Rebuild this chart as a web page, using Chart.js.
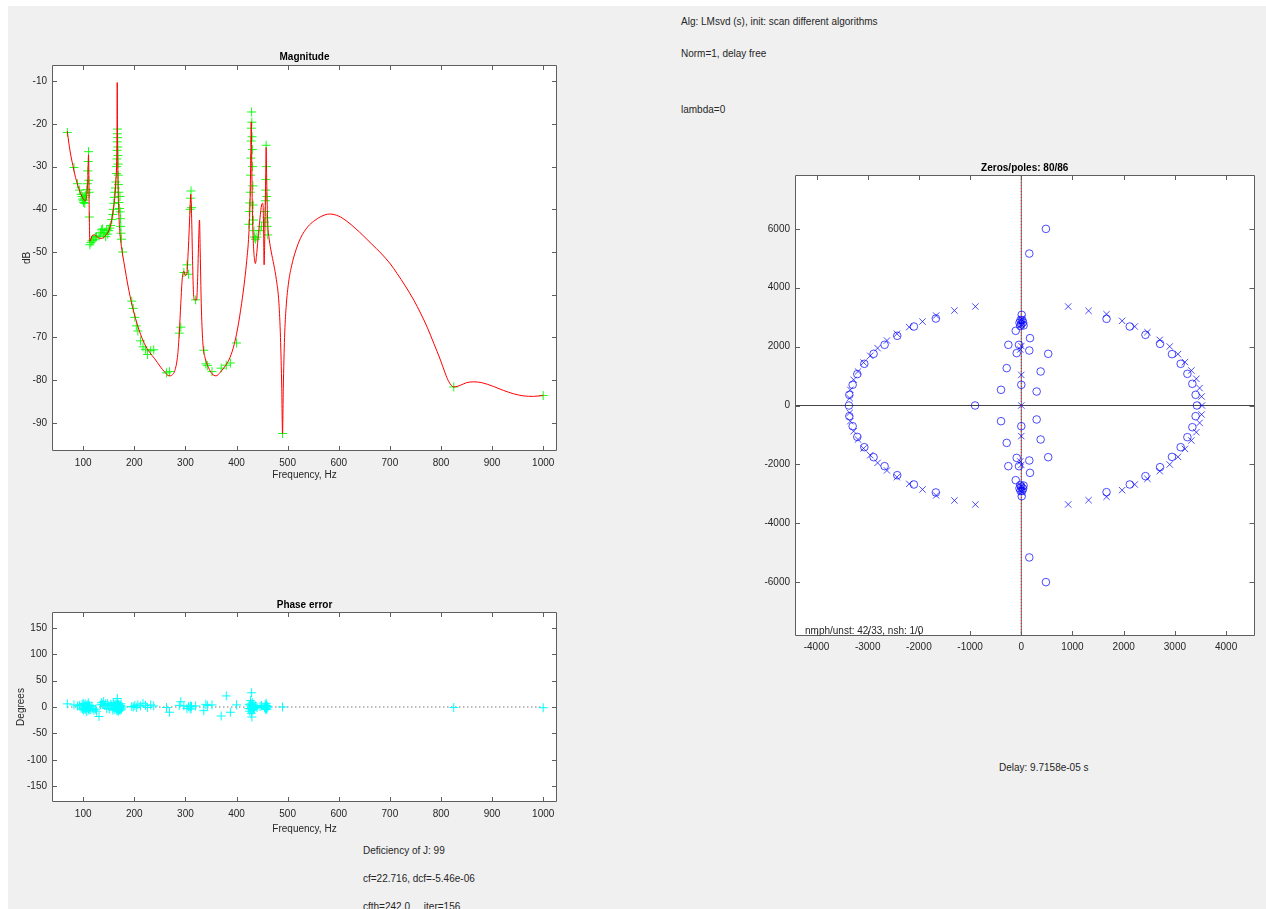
<html>

<head>
  <title>Fit result</title>
  <script src="https://cdn.jsdelivr.net/npm/chart.js"></script>
  <style>
    body {
      margin: 0;
      width: 1266px;
      height: 909px;
      overflow: hidden;
      background: #fff;
      font-family: "Liberation Sans", Arial, sans-serif;
    }

    #fig {
      position: absolute;
      left: 8px;
      top: 6px;
      width: 1258px;
      height: 903px;
      background: #f0f0f0;
    }

    canvas {
      position: absolute;
    }

    .txt {
      position: absolute;
      font-size: 10px;
      line-height: 12px;
      color: #262626;
      white-space: pre;
    }
  </style>
</head>

<body>
  <div id="fig"></div>
  <canvas id="magChart" width="570" height="445" style="left:8px;top:45px"></canvas>
  <canvas id="phaseChart" width="570" height="245" style="left:8px;top:592px"></canvas>
  <canvas id="zpChart" width="500" height="510" style="left:760px;top:150px"></canvas>

  <div class="txt" style="left:681px;top:16px">Alg: LMsvd (s), init: scan different algorithms</div>
  <div class="txt" style="left:681px;top:48px">Norm=1, delay free</div>
  <div class="txt" style="left:681px;top:104px">lambda=0</div>
  <div class="txt" style="left:805px;top:625px">nmph/unst: 42/33, nsh: 1/0</div>
  <div class="txt" style="left:999px;top:762px">Delay: 9.7158e-05 s</div>
  <div class="txt" style="left:363px;top:845px">Deficiency of J: 99</div>
  <div class="txt" style="left:363px;top:873px">cf=22.716, dcf=-5.46e-06</div>
  <div class="txt" style="left:363px;top:901px">cfth=242.0     iter=156</div>

  <script>
    // model curve (red line)
    const curveFreq = [69, 72, 76, 80, 85, 90, 95, 100, 104, 106, 108, 109, 110, 110.5, 111.2, 112, 113, 115, 118, 122,
      126, 130, 135, 140, 145, 150, 155, 159, 162, 164, 165.5, 166.2, 166.6, 167.1, 168, 169.5, 171.5, 174, 177, 182,
      187, 192, 200, 210, 220, 230, 240, 250, 260, 268, 274, 280, 285, 288, 291, 294, 297, 300, 303, 305,
      307, 309, 310.6, 312, 314, 316, 318, 322, 324, 326, 327.6, 329, 331, 334, 338, 345, 352, 360, 368, 376,
      385, 394, 402, 410, 416, 420, 424, 426.5, 428, 428.8, 429.6, 431, 433, 435, 437, 439, 442, 446, 449, 451,
      452.5, 454, 455.5, 457, 458, 459, 461, 464, 468, 473, 478, 483, 486, 488.5, 490, 491.5, 494, 497, 502, 508,
      515, 525, 540, 551, 565, 582, 600, 616, 632, 649, 665, 682, 701, 714, 730, 747, 760, 773, 786, 799,
      808, 815, 825, 838, 850, 864, 880, 903, 922, 942, 962, 981, 1000];
    const curveDb = [-21.7, -24.5, -27.5, -29.8, -32.5, -34.6, -36.3, -37.5, -38, -37.5, -35.5, -33, -29, -27.2, -33, -42, -47.5, -47, -46.1, -46,
      -46.3, -46.7, -46.8, -46.6, -46, -45, -43, -40, -37, -33, -29, -22, -10.3, -22, -33, -40, -45, -48, -50.5, -54,
      -57.5, -60.5, -64.5, -68.5, -71.5, -73.5, -75, -76.7, -78.2, -79, -78.8, -77.5, -74, -69, -62, -56, -54.5, -55.5, -55, -51,
      -46, -40, -36.5, -41, -52, -60, -61.2, -61.2, -56, -47, -42.5, -50, -62, -71, -74.5, -77, -78.5, -79, -78.2, -77,
      -75.3, -72.3, -68, -62, -56.5, -52, -46, -38, -27, -19.5, -27, -40, -48, -51.5, -52.7, -51, -47, -42, -39, -38.6,
      -41, -53, -45, -33, -25.5, -33, -43, -47, -50, -53, -56.5, -62, -70, -82, -92.5, -82, -70, -63, -57, -53.1,
      -50, -46.8, -44, -42.8, -41.7, -41.1, -41.6, -42.8, -44.4, -46.3, -48.2, -50.2, -52.8, -55, -57.9, -61.3, -64.3, -67.6, -71.4, -75.3,
      -78.3, -80.3, -81.6, -81.2, -80.6, -80.4, -80.6, -81.5, -82.4, -83.2, -83.7, -83.8, -83.6];

    // measured points (green +) and their phase error (cyan +)
    const measFreq = [69, 82, 89, 93, 96, 98, 99, 100, 101, 102, 103, 104, 105, 106, 107, 108, 109, 110, 110.5, 111,
      111.5, 112, 113, 115, 117, 119, 121, 124, 126, 131, 134, 136, 138, 140, 142, 144, 146, 148, 150, 152,
      154, 156, 158, 159, 160, 161, 162, 163, 164, 165, 165.5, 166, 166.3, 166.6, 166.9, 167.2, 167.5, 167.8, 168.1, 168.4,
      168.7, 169, 169.5, 170, 171, 172, 172.5, 173, 173.5, 174, 175, 177, 195, 198, 201, 204, 207, 212, 217, 222,
      226, 232, 238, 263, 269, 288, 291, 297, 303, 306, 309, 310, 311, 312, 320, 336, 340, 343, 352, 370,
      380, 388, 400, 424, 425, 426, 427, 427.5, 428, 428.5, 429, 429.5, 430, 430.5, 431, 431.5, 432, 432.5, 433, 434,
      435, 437, 440, 446, 449, 455, 456, 456.5, 457, 457.5, 458, 458.5, 459, 459.5, 460, 461, 490, 825, 1000];
    const measDb = [-22, -30.2, -34, -35.5, -36.5, -37, -37.6, -38, -38.4, -37.8, -38.6, -37.3, -36.8, -36.2, -35.4, -34, -31, -28.8, -26.5, -33.2,
      -36, -41.8, -48.3, -47.8, -47.4, -47.2, -47, -46.5, -46.4, -46.2, -45.5, -44.8, -44.6, -45.8, -45.4, -46.4, -44.8, -45.8, -45, -44.4,
      -43.8, -42.4, -41.2, -40, -38.6, -37.2, -36, -35, -33.6, -31.6, -30, -28.2, -26.2, -24.2, -22.3, -21.2, -23.2, -25.4, -27.4, -29.4,
      -32, -34.2, -36, -38.4, -39.8, -37, -40.6, -42.2, -44, -45.6, -47, -50, -61.5, -63.2, -65.3, -67.3, -68.5, -70.8, -72.2, -72.8,
      -74, -73.1, -72.9, -78.3, -78, -69, -67.6, -54.8, -53, -55.2, -40, -37.4, -35.7, -39.6, -61.2, -73, -76.2, -76.6, -78, -77.2,
      -76.5, -76, -71.3, -43.5, -40.5, -38.5, -36, -32, -28, -24, -21, -17.2, -19.6, -23, -26, -30, -34.5, -39, -42.5, -45,
      -46.5, -47, -46.5, -45, -44, -43, -40.5, -38, -35.5, -33, -25, -30, -37, -42, -44, -46, -92.5, -81.6, -83.6];
    const phaseErr = [6, 4, 2, 3, -2, 5, -4, 7, -6, 3, -3, 6, -5, 2, -8, 4, -2, 8, -4, 1,
      -6, 3, -2, -5, 2, -3, -6, -4, -8, -18, 4, 8, 5, 10, 3, 6, -3, 7, 2, -4,
      5, 3, -6, 8, -2, 4, -5, 2, 6, -3, 3, -7, 5, -2, 16, 8, -4, 3, -6, 2,
      -8, 5, -3, 4, -5, 2, -6, 3, -2, 6, -4, 0, 1, 0, 3, -1, 4, 2, 7, 3,
      -1, 4, 2, -1, -10, 3, 10, 2, -3, 1, -2, 2, -4, 1, 2, -7, 5, 3, 4, -17,
      21, -10, 4, -3, 5, -8, 2, 12, -4, 6, -12, 27, -19, 3, -6, 8, -2, 4, -5, 1,
      -3, 2, -1, 1, 3, -1, 4, -3, 2, -5, 7, -2, 3, -4, 1, 0, 0, -1, -1.4];
    const zeroLineFreq = [69, 1000];
    const zeroLineVal = [0, 0];

    // zeros (o) and poles (x)
    const zeroRe = [-3367, -3359, -3359, -3294, -3294, -3203, -3203, -3066, -3066, -2885, -2885, -2670, -2670, -2423, -2423, -2097, -2097, -1669, -1669,
      3431, 3405, 3405, 3341, 3341, 3244, 3244, 3113, 3113, 2943, 2943, 2710, 2710, 2425, 2425, 2119, 2119, 1665, 1665,
      -903, -396, -396, 300, 300, 0, 0, -285, -285, 378, 378, -90, -90, 156, 156, 526, 526, -253, -253, -45, -45,
      170, 170, -109, -109, -20, -20, 45, 45, 0, 0, -35, -35, 35, 35, -15, -15, 20, 20, 8, 8, 156, 156, 481, 481];
    const zeroIm = [0, 363, -363, 703, -703, 1066, -1066, 1416, -1416, 1756, -1756, 2061, -2061, 2367, -2367, 2683, -2683, 2954, -2954,
      0, 363, -363, 737, -737, 1076, -1076, 1416, -1416, 1745, -1745, 2095, -2095, 2400, -2400, 2683, -2683, 2944, -2944,
      0, 533, -533, 475, -475, 703, -703, 1270, -1270, 1155, -1155, 1779, -1779, 1868, -1868, 1756, -1756, 2061, -2061, 2061, -2061,
      2288, -2288, 2537, -2537, 2700, -2700, 2720, -2720, 2760, -2760, 2810, -2810, 2820, -2820, 2900, -2900, 2900, -2900, 3080, -3080, 5161, -5161, 6000, -6000];
    const poleRe = [-3352, -3352, -3340, -3340, -3275, -3275, -3189, -3189, -3080, -3080, -2950, -2950, -2807, -2807, -2624, -2624, -2429, -2429,
      -2189, -2189, -1930, -1930, -1663, -1663, -1306, -1306, -897, -897,
      3529, 3522, 3522, 3483, 3483, 3419, 3419, 3322, 3322, 3197, 3197, 3060, 3060, 2899, 2899, 2704, 2704, 2464, 2464,
      2216, 2216, 1969, 1969, 1665, 1665, 1314, 1314, 916, 916,
      0, 0, 0, -20, -20, 0, 0, 0, 0, 0, 0, 10, 10];
    const poleIm = [251, -251, 533, -533, 873, -873, 1155, -1155, 1460, -1460, 1688, -1688, 1949, -1949, 2207, -2207, 2435, -2435,
      2662, -2662, 2852, -2852, 3056, -3056, 3226, -3226, 3362, -3362,
      0, 306, -306, 591, -591, 907, -907, 1189, -1189, 1474, -1474, 1745, -1745, 2004, -2004, 2231, -2231, 2492, -2492,
      2683, -2683, 2876, -2876, 3103, -3103, 3216, -3216, 3362, -3362,
      0, 1040, -1040, 1900, -1900, 2020, -2020, 2750, -2750, 2850, -2850, 2950, -2950];

    // axis limits and tick labels
    const magXRange = [39, 1027];
    const magYRange = [-96.6, -6.2];
    const phaseYRange = [-180, 180];
    const zpXRange = [-4420, 4555];
    const zpYRange = [-7830, 7830];
    const freqTicks = [100, 200, 300, 400, 500, 600, 700, 800, 900, 1000];
    const magYTicks = [-90, -80, -70, -60, -50, -40, -30, -20, -10];
    const phaseYTicks = [-150, -100, -50, 0, 50, 100, 150];
    const zpXTicks = [-4000, -3000, -2000, -1000, 0, 1000, 2000, 3000, 4000];
    const zpYTicks = [-6000, -4000, -2000, 0, 2000, 4000, 6000];

    const FONT = "'Liberation Sans', Arial, sans-serif";
    const TXT = '#262626';

    function pts(xs, ys) {
      return xs.map((x, i) => ({ x: x, y: ys[i] }));
    }

    // white axes background, box with inward ticks on all sides, bold title
    const matlabBox = {
      id: 'matlabBox',
      beforeDraw(chart) {
        const a = chart.chartArea, ctx = chart.ctx;
        ctx.save();
        ctx.fillStyle = '#fff';
        ctx.fillRect(a.left, a.top, a.right - a.left, a.bottom - a.top);
        ctx.restore();
      },
      afterDraw(chart, args, opts) {
        const a = chart.chartArea, ctx = chart.ctx;
        const len = opts.tickLen;
        const xs = chart.scales.x, ys = chart.scales.y;
        ctx.save();
        ctx.strokeStyle = '#5e5e5e';
        ctx.lineWidth = 1;
        ctx.beginPath();
        ctx.rect(Math.round(a.left) + 0.5, Math.round(a.top) + 0.5, Math.round(a.right - a.left) - 1, Math.round(a.bottom - a.top) - 1);
        xs.ticks.forEach(t => {
          const p = Math.round(xs.getPixelForValue(t.value)) + 0.5;
          ctx.moveTo(p, a.bottom); ctx.lineTo(p, a.bottom - len);
          ctx.moveTo(p, a.top); ctx.lineTo(p, a.top + len);
        });
        ys.ticks.forEach(t => {
          const p = Math.round(ys.getPixelForValue(t.value)) + 0.5;
          ctx.moveTo(a.left, p); ctx.lineTo(a.left + len, p);
          ctx.moveTo(a.right, p); ctx.lineTo(a.right - len, p);
        });
        ctx.stroke();
        ctx.fillStyle = '#000';
        ctx.font = 'bold 10px ' + FONT;
        ctx.textAlign = 'center';
        ctx.textBaseline = 'middle';
        ctx.fillText(opts.title, (a.left + a.right) / 2, a.top - opts.gap);
        ctx.restore();
      }
    };

    function genScale(range, ticks, size, pad, title, titlePad) {
      return {
        type: 'linear',
        min: range[0],
        max: range[1],
        afterBuildTicks: axis => { axis.ticks = ticks.map(v => ({ value: v })); },
        afterFit: axis => {
          if (axis.isHorizontal()) axis.height = size;
          else axis.width = size;
        },
        grid: { display: false, drawTicks: false },
        border: { display: false },
        ticks: {
          padding: pad, color: TXT, autoSkip: false, maxRotation: 0,
          font: { family: FONT, size: 10 },
          callback: v => String(v)
        },
        title: {
          display: !!title, text: title || '', color: TXT,
          font: { family: FONT, size: 10 },
          padding: titlePad || 0
        }
      };
    }

    function genChartConfig(datasets, scales, padding, box) {
      return {
        type: 'scatter',
        data: { datasets: datasets },
        options: {
          responsive: false,
          animation: false,
          events: [],
          layout: { padding: padding },
          scales: scales,
          plugins: { legend: { display: false }, tooltip: { enabled: false }, matlabBox: box }
        },
        plugins: [matlabBox]
      };
    }

    // Magnitude
    new Chart('magChart', genChartConfig([
      {
        data: pts(curveFreq, curveDb), showLine: true, borderColor: '#ff0000', borderWidth: 1,
        pointRadius: 0, cubicInterpolationMode: 'monotone'
      },
      {
        data: pts(measFreq, measDb), showLine: false, pointStyle: 'cross', pointRadius: 4.5,
        pointBorderColor: 'rgba(0,255,0,0.9)', pointBorderWidth: 1
      }
    ], {
      x: genScale(magXRange, freqTicks, 39, 6, 'Frequency, Hz', { top: 0, bottom: 9 }),
      y: genScale(magYRange, magYTicks, 44, 5, 'dB', { top: 13, bottom: 0 })
    }, { top: 20, right: 21, left: 0, bottom: 0 }, { title: 'Magnitude', gap: 8, tickLen: 5 }));

    // Phase error
    new Chart('phaseChart', genChartConfig([
      {
        data: pts(measFreq, phaseErr), showLine: false, pointStyle: 'cross', pointRadius: 4.5,
        pointBorderColor: '#00ffff', pointBorderWidth: 1
      },
      {
        data: pts(zeroLineFreq, zeroLineVal), showLine: true, borderColor: '#333', borderWidth: 1,
        borderDash: [1, 3], pointRadius: 0
      }
    ], {
      x: genScale(magXRange, freqTicks, 35, 6, 'Frequency, Hz', { top: 0, bottom: 2 }),
      y: genScale(phaseYRange, phaseYTicks, 44, 5, 'Degrees', { top: 7, bottom: 0 })
    }, { top: 20, right: 21, left: 0, bottom: 0 }, { title: 'Phase error', gap: 7, tickLen: 5 }));

    // Zeros / poles
    new Chart('zpChart', genChartConfig([
      {
        data: pts(zeroRe, zeroIm), showLine: false, pointStyle: 'circle', pointRadius: 3.8,
        pointBorderColor: 'rgba(0,0,255,0.7)', pointBackgroundColor: 'rgba(0,0,0,0)', pointBorderWidth: 1
      },
      {
        data: pts(poleRe, poleIm), showLine: false, pointStyle: 'crossRot', pointRadius: 4.5,
        pointBorderColor: 'rgba(0,0,255,0.7)', pointBorderWidth: 1
      },
      {
        data: pts([0, 0], zpYRange), showLine: true, borderColor: 'rgba(255,0,0,0.8)', borderWidth: 1,
        borderDash: [1, 2], pointRadius: 0
      },
      {
        data: pts([0, 0], zpYRange), showLine: true, borderColor: '#666', borderWidth: 1, pointRadius: 0
      },
      {
        data: pts(zpXRange, [0, 0]), showLine: true, borderColor: '#444', borderWidth: 1, pointRadius: 0
      }
    ], {
      x: genScale(zpXRange, zpXTicks, 24, 5),
      y: genScale(zpYRange, zpYTicks, 35, 5)
    }, { top: 25, right: 5, left: 0, bottom: 0 }, { title: 'Zeros/poles: 80/86', gap: 7, tickLen: 5 }));
  </script>
</body>

</html>
